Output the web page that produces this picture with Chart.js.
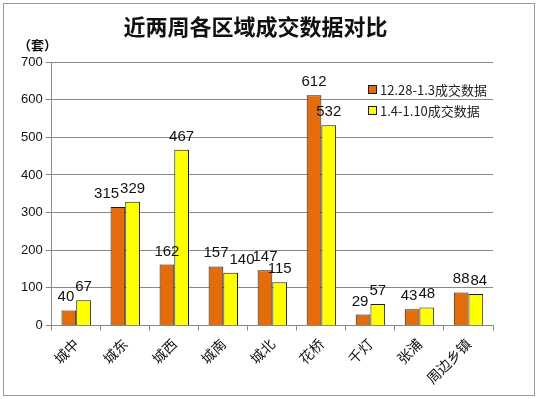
<!DOCTYPE html>
<html>
<head>
<meta charset="utf-8">
<script src="https://cdn.jsdelivr.net/npm/chart.js@4"></script>
<style>
  html, body { margin: 0; padding: 0; background: #fff; }
  #wrap { width: 538px; height: 399px; }
</style>
</head>
<body>
<div id="wrap"><canvas id="chart" width="538" height="399"></canvas></div>
<script>
  // data
  var categories = ['城中', '城东', '城西', '城南', '城北', '花桥', '千灯', '张浦', '周边乡镇'];
  var seriesNames = ['12.28-1.3成交数据', '1.4-1.10成交数据'];
  var weekOne = [40, 315, 162, 157, 147, 612, 29, 43, 88];
  var weekTwo = [67, 329, 467, 140, 115, 532, 57, 48, 84];
  var yMin = 0, yMax = 700, yStep = 100;

  var colors = { orange: '#E46C0A', yellow: '#FFFF00', edge: '#1a1a1a', grid: '#8a8a8a' };
  var cjk = '"Noto Sans CJK SC", "Noto Sans", sans-serif';
  var num = '"Liberation Sans", Arial, sans-serif';

  // outer frame of the picture
  var framePlugin = {
    id: 'frame',
    beforeDraw: function (chart) {
      var ctx = chart.ctx;
      ctx.save();
      ctx.fillStyle = '#fff';
      ctx.fillRect(0, 0, chart.width, chart.height);
      ctx.strokeStyle = '#9a9a9a';
      ctx.lineWidth = 1;
      ctx.strokeRect(3.5, 3.5, chart.width - 7, chart.height - 7);
      ctx.restore();
    }
  };

  // values above the bars, the lower label moves aside when two collide
  var valueLabels = {
    id: 'valueLabels',
    afterDatasetsDraw: function (chart) {
      var ctx = chart.ctx;
      ctx.save();
      ctx.font = '15px ' + num;
      ctx.fillStyle = '#111';
      ctx.textAlign = 'center';
      ctx.textBaseline = 'alphabetic';
      var a = chart.getDatasetMeta(0).data;
      var b = chart.getDatasetMeta(1).data;
      var va = chart.data.datasets[0].data;
      var vb = chart.data.datasets[1].data;
      for (var i = 0; i < a.length; i++) {
        var ta = String(va[i]), tb = String(vb[i]);
        var wa = ctx.measureText(ta).width, wb = ctx.measureText(tb).width;
        var xa = a[i].x, xb = b[i].x;
        var ya = a[i].y - 9, yb = b[i].y - 9;
        var overlapX = (xa + wa / 2) - (xb - wb / 2) + 1;
        if (overlapX > 0 && Math.abs(ya - yb) < 11) {
          if (ya > yb) xa -= overlapX; else xb += overlapX;
        }
        ctx.fillText(ta, xa, ya);
        ctx.fillText(tb, xb, yb);
      }
      ctx.restore();
    }
  };

  // legend sitting inside the plot, top right
  var boxLegend = {
    id: 'boxLegend',
    afterDraw: function (chart) {
      var ctx = chart.ctx;
      var area = chart.chartArea;
      var x = area.right - 125;
      var y = area.top + 23;
      ctx.save();
      ctx.font = '13px ' + cjk;
      ctx.textBaseline = 'middle';
      chart.data.datasets.forEach(function (ds, i) {
        var top = y + i * 21;
        ctx.fillStyle = ds.backgroundColor;
        ctx.fillRect(x, top, 9, 9);
        ctx.strokeStyle = colors.edge;
        ctx.lineWidth = 1;
        ctx.strokeRect(x + 0.5, top + 0.5, 8, 8);
        ctx.fillStyle = '#222';
        ctx.fillText(ds.label, x + 12, top + 5);
      });
      ctx.restore();
    }
  };

  var ctx = document.getElementById('chart').getContext('2d');
  var chart = new Chart(ctx, {
    type: 'bar',
    data: {
      labels: categories,
      datasets: [
        {
          label: seriesNames[0],
          data: weekOne,
          backgroundColor: colors.orange,
          borderColor: colors.edge,
          borderWidth: 1
        },
        {
          label: seriesNames[1],
          data: weekTwo,
          backgroundColor: colors.yellow,
          borderColor: colors.edge,
          borderWidth: 1
        }
      ]
    },
    options: {
      responsive: false,
      animation: false,
      devicePixelRatio: 1,
      datasets: {
        bar: { categoryPercentage: 0.6, barPercentage: 1.0 }
      },
      layout: { padding: { left: 18, right: 45, top: 0, bottom: 7 } },
      plugins: {
        legend: { display: false },
        tooltip: { enabled: false },
        title: {
          display: true,
          text: '近两周各区域成交数据对比',
          color: '#111',
          font: { family: cjk, size: 22, weight: 'bold', lineHeight: 1 },
          padding: { top: 16, bottom: 0 }
        },
        subtitle: {
          display: true,
          text: '（套）',
          align: 'start',
          color: '#111',
          font: { family: cjk, size: 13, weight: 'bold', lineHeight: 1 },
          padding: { top: 1, bottom: 10 }
        }
      },
      scales: {
        x: {
          grid: {
            display: true,
            drawOnChartArea: false,
            drawTicks: true,
            tickLength: 5,
            color: colors.grid,
            offset: true
          },
          border: { display: true, color: colors.grid },
          ticks: {
            color: '#111',
            font: { family: cjk, size: 14 },
            minRotation: 45,
            maxRotation: 45,
            padding: 5
          }
        },
        y: {
          min: yMin,
          max: yMax,
          grid: { color: colors.grid, tickLength: 6 },
          border: { display: true, color: colors.grid },
          ticks: {
            stepSize: yStep,
            color: '#111',
            font: { family: num, size: 13 },
            padding: 3
          }
        }
      }
    },
    plugins: [framePlugin, valueLabels, boxLegend]
  });
</script>
</body>
</html>
